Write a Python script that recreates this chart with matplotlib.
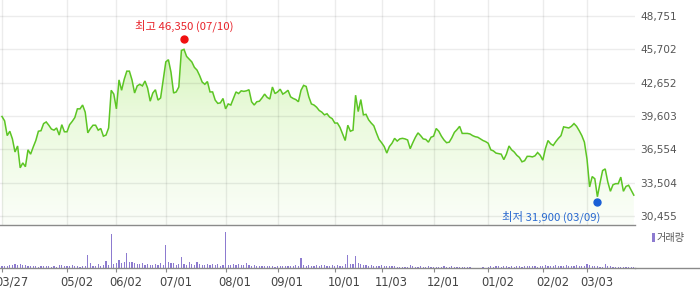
import matplotlib
matplotlib.use('Agg')
import matplotlib.pyplot as plt
import numpy as np
from matplotlib.transforms import ScaledTranslation
from matplotlib.patches import Rectangle
from matplotlib.lines import Line2D
from matplotlib.colors import LinearSegmentedColormap

# ---------------- data ----------------
close = [
    39550, 39150, 37800, 38200, 37500, 36300, 36850, 34850, 35300, 34950,
    36500, 36100, 36750, 37350, 38200, 38250, 38900, 39050, 38750, 38400,
    38300, 38500, 37850, 38800, 38150, 38150, 38800, 39100, 39450, 40250,
    40250, 40600, 39950, 38050, 38450, 38750, 38750, 38300, 38450, 37750,
    37850, 38500, 41950, 41600, 40250, 42900, 41950, 42950, 43700, 43700,
    42900, 41700, 42350, 42500, 42350, 42800, 42150, 40950, 41700, 42000,
    41050, 41250, 42900, 44550, 44750, 43600, 41700, 41800, 42250, 45600,
    45700, 45050, 44800, 44550, 44050, 43800, 43300, 42700, 42500, 42750,
    41800, 41800, 41050, 40750, 40800, 41200, 40250, 40700, 40600, 41200,
    41800, 41650, 41900, 41850, 41900, 42000, 40900, 40600, 40900, 40950,
    41250, 41600, 41300, 41150, 42250, 41650, 41800, 42050, 41600, 41750,
    41950, 41350, 41200, 41100, 40900, 41950, 42400, 42300, 41350, 40700,
    40600, 40400, 40100, 39950, 39700, 39800, 39500, 39350, 38950, 38950,
    38550, 37950, 37350, 38750, 38200, 38300, 41500, 40000, 41100, 39700,
    39750, 39250, 38950, 38700, 38050, 37450, 37150, 36800, 36200, 36800,
    37100, 37550, 37300, 37500, 37550, 37500, 37400, 36600, 37150, 37650,
    38050, 37800, 37500, 37450, 37200, 37650, 37750, 38450, 38200, 37750,
    37400, 37150, 37200, 37600, 38100, 38350, 38650, 38000, 38000, 38000,
    37950, 37800, 37700, 37650, 37500, 37350, 37250, 37100, 36500, 36400,
    36200, 36150, 36100, 35600, 36100, 36850, 36500, 36300, 36000, 35800,
    35400, 35500, 35900, 35900, 35850, 35950, 36250, 36000, 35550, 36600,
    37350, 37050, 36900, 37250, 37550, 37800, 38600, 38550, 38500, 38650,
    38900, 38650, 38250, 37800, 37200, 35650, 33100, 34050, 33850, 32200,
    33450, 34600, 34750, 33550, 32700, 33300, 33400, 33400, 34000, 32700,
    33150, 33250, 32800, 32350,
]

volume = [  # thousand shares
    200, 200, 200, 300, 300, 400, 300, 400, 300, 300, 200, 200, 200, 200, 150,
    200, 200, 200, 200, 150, 200, 150, 300, 300, 200,
    200, 200, 300, 200, 200, 150, 200, 200, 1300, 500, 250, 200, 400, 200, 300,
    700, 300,
    3400, 400, 500, 800, 500, 600, 1500, 600, 600, 500, 400, 400, 500, 300, 400,
    300, 300, 400, 300, 500, 300,
    2300, 600, 500, 500, 300, 400, 1100, 400, 300, 600, 400, 300, 600, 400, 300,
    300, 400, 300, 400, 300, 400, 200, 300, 3600, 300, 300, 400, 300, 400, 300,
    300, 500, 300, 200, 300, 200, 200,
    200, 200, 200, 200, 200, 150, 200, 200, 200, 200, 200, 200, 200, 300, 200,
    1000, 300, 200, 300, 200, 200, 300, 200, 300, 300, 200, 200, 300, 200, 300,
    200, 200,
    400, 1300, 400, 400, 1200, 500, 400, 300, 300, 200, 300, 200, 200, 200, 300,
    200, 200, 200, 200, 200, 150, 150, 150, 150, 150,
    300, 200, 150, 150, 200, 150, 150, 200, 150, 150, 100, 150, 150, 200, 100,
    150, 200, 150, 100, 100,
    100, 100, 100, 100, 50, 50, 50, 50, 100, 50,
    150, 200, 150, 200, 200, 150, 200, 200, 150, 200, 150, 200, 200, 150, 200,
    250, 200, 200, 250, 150, 200,
    250, 300, 200, 250, 200, 300, 250, 200, 250, 300, 250, 200, 250, 300, 250,
    200, 250,
    400, 300, 200, 250, 200, 150, 150, 400, 200, 200, 150, 100, 150, 100, 150,
    100, 150, 100, 100,
]

tick_days = [0, 25, 44, 63, 86, 106, 128, 146, 166, 187, 208, 225]
tick_labels = ['03/27', '05/02', '06/02', '07/01', '08/01', '09/01', '10/01',
               '11/03', '12/01', '01/02', '02/02', '03/03']
price_ticks = [30455, 33504, 36554, 39603, 42652, 45702, 48751]

high_day, high_val, high_text = 70, 46350, '최고 46,350 (07/10)'
low_day, low_val, low_text = 229, 31900, '최저 31,900 (03/09)'

# ---------------- figure ----------------
W, H = 700, 289
fig = plt.figure(figsize=(W / 100, H / 100), dpi=100)
KR = ['Noto Sans CJK KR', 'DejaVu Sans']

def fx(px):
    return px / W

def fy(py):
    return (H - py) / H

ax = fig.add_axes([0, fy(225), fx(635), 225 / H])
axv = fig.add_axes([0, fy(268), fx(635), 43 / H])

days = np.arange(len(close))
xlim = (-0.77, 243.46)
ylim = (29615, 50216)

# gradient fill under the line
fb = ax.fill_between(days, close, ylim[0], facecolor='none', edgecolor='none')
cmap = LinearSegmentedColormap.from_list('g', ['#fbfef9', '#eafadc', '#c8f1a4'])
grad = np.linspace(0, 1, 256).reshape(-1, 1)
im = ax.imshow(grad, extent=[xlim[0], xlim[1], ylim[0], ylim[1]], origin='lower',
               aspect='auto', cmap=cmap, zorder=0)
im.set_clip_path(fb.get_paths()[0], transform=ax.transData)

ax.plot(days, close, color='#5cc524', lw=1.1, zorder=3, solid_joinstyle='miter')

ax.set_xlim(*xlim)
ax.set_ylim(*ylim)
ax.set_yticks(price_ticks)
ax.set_yticklabels([f'{v:,}' for v in price_ticks])
ax.yaxis.tick_right()
ax.tick_params(axis='y', length=0, pad=4, labelsize=7.6, labelcolor='#555555')
ax.set_xticks(tick_days)
ax.tick_params(axis='x', length=0, labelbottom=False)
ax.grid(True, color='black', alpha=0.075, lw=1)
ax.set_axisbelow(True)
for s in ['top', 'left', 'right']:
    ax.spines[s].set_visible(False)
ax.spines['bottom'].set_color('#8a8a8a')
ax.spines['bottom'].set_linewidth(1)
ax.patch.set_alpha(0)

# high / low markers
up = ax.transData + ScaledTranslation(0, 3 / 100, fig.dpi_scale_trans)
dn = ax.transData + ScaledTranslation(0, -2.3 / 100, fig.dpi_scale_trans)
ax.plot([high_day], [high_val], 'o', color='#f01010', ms=5, transform=up, zorder=5, clip_on=False)
ax.plot([low_day], [low_val], 'o', color='#1a5fd6', ms=5, transform=dn, zorder=5, clip_on=False)
ax.annotate(high_text, (high_day, high_val), xytext=(0, 12), textcoords='offset points',
            ha='center', va='center', color='#e8242b', fontsize=8.2, family=KR)
ax.annotate(low_text, (low_day, low_val), xytext=(2.2, -11.8), textcoords='offset points',
            ha='right', va='center', color='#2a6ad0', fontsize=8.2, family=KR)

# volume panel
axv.bar(days, volume, width=0.45, color='#8d7bd0', linewidth=0)
axv.set_xlim(*xlim)
axv.set_ylim(0, 4300)
axv.set_yticks([])
axv.set_xticks(tick_days)
axv.set_xticklabels(tick_labels)
axv.tick_params(axis='x', length=3, width=0.8, color='#8a8a8a', pad=2.3,
                labelsize=8.3, labelcolor='#444444')
shift = ScaledTranslation(-7 / 100, 0, fig.dpi_scale_trans)
for lbl in axv.get_xticklabels():
    lbl.set_ha('left')
    lbl.set_transform(lbl.get_transform() + shift)
for s in ['top', 'left', 'right']:
    axv.spines[s].set_visible(False)
axv.spines['bottom'].set_color('#8a8a8a')
axv.spines['bottom'].set_linewidth(1)
axv.patch.set_alpha(0)

fig.add_artist(Line2D([fx(635), 1], [fy(268), fy(268)], transform=fig.transFigure,
                      color='#8a8a8a', lw=1))

# legend for volume
fig.add_artist(Rectangle((fx(652), fy(242)), 3 / W, 9 / H, transform=fig.transFigure,
                         color='#8d7bd0', lw=0))
fig.text(fx(656.5), fy(237.5), '거래량', ha='left', va='center', fontsize=7.3,
         color='#555555', family=KR)

fig.savefig('out.png', dpi=100)
